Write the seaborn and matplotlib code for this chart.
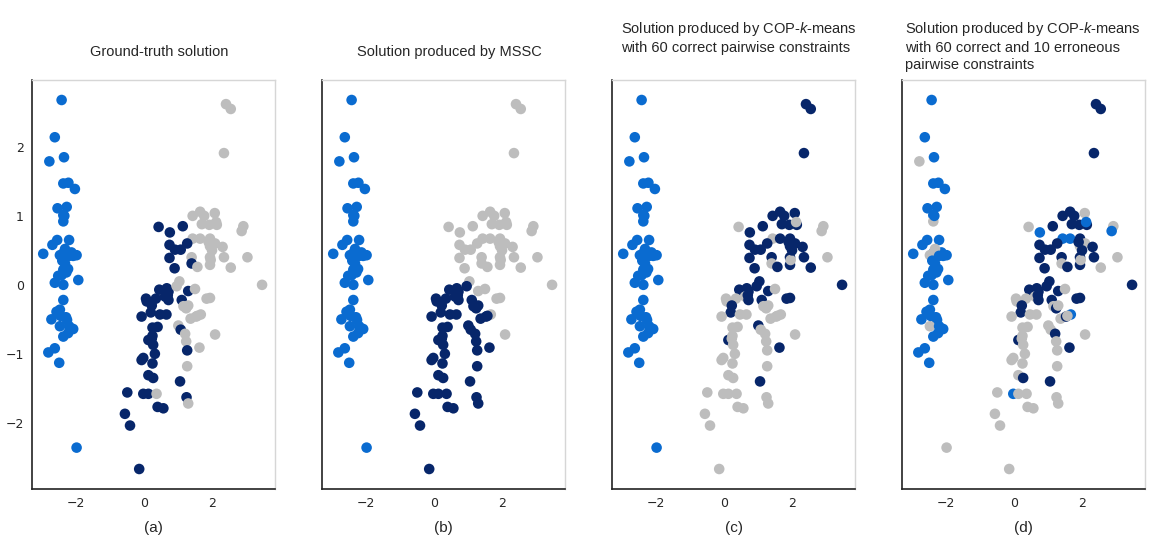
import matplotlib
matplotlib.use("Agg")
import matplotlib.pyplot as plt
import numpy as np
import pandas as pd
import seaborn as sns

# point positions (shared by all four panels)
pc1 = [
    # left group
    -2.42, -2.62, -2.78, -2.35, -2.37, -2.22, -2.03, -2.54, -2.27, -2.37,
    -2.37, -2.55, -2.69, -2.20, -2.96, -2.37, -2.13, -1.98, -2.08, -2.32,
    -2.47, -2.32, -2.37, -2.23, -2.42, -2.52, -2.62, -2.37, -1.93, -2.37,
    -2.47, -2.57, -2.72, -2.29, -2.26, -2.47, -2.08, -2.23, -2.37, -2.62,
    -2.81, -2.49, -1.98, -2.32, -2.40, -2.28, -2.45, -2.20, -2.34, -2.20,
    # right group, upper part
    2.41, 2.55, 2.35, 1.43, 1.65, 1.77, 2.08, 1.92, 2.14, 2.92,
    2.87, 0.43, 0.76, 1.14, 1.43, 1.65, 1.94, 2.09, 1.94, 2.31,
    0.75, 1.27, 0.91, 1.08, 0.75, 1.40, 1.94, 2.35, 3.04, 1.40,
    1.57, 1.94, 2.55, 0.90, 3.47, 1.04, 2.12, 1.96,
    # right group, lower part
    0.45, 0.67, 0.72, 0.96, 1.30, 1.50, 0.06, 0.08, 0.35, 0.62,
    0.72, 1.11, 1.84, 1.94, 1.16, 1.24, 0.23, 0.20, -0.07, 0.47,
    0.66, 1.37, 1.53, 1.67, 0.25, 0.40, 1.01, 1.08, 1.21, 2.09,
    0.13, 0.23, 0.27, 1.24, 1.27, 1.63, 0.32, -0.02, -0.07, 0.25,
    1.27, 0.13, 0.27, 1.06, -0.49, -0.02, 0.13, 0.37, 1.25, 1.30,
    0.40, 0.57, -0.56, -0.41, -0.14,
    # hidden under others
    0.70, 0.25, 1.90, 1.57, 2.00, 1.70, 1.30,
]
pc2 = [
    2.68, 2.14, 1.79, 1.85, 1.47, 1.48, 1.39, 1.11, 1.13, 1.01,
    0.92, 0.65, 0.58, 0.65, 0.45, 0.46, 0.47, 0.43, 0.42, 0.39,
    0.43, 0.31, 0.22, 0.23, 0.14, 0.13, 0.03, 0.00, 0.07, -0.22,
    -0.36, -0.39, -0.50, -0.47, -0.51, -0.60, -0.64, -0.70, -0.75, -0.92,
    -0.98, -1.13, -2.36, 0.52, 0.35, 0.18, -0.45, -0.60, 1.00, 0.42,
    2.62, 2.55, 1.91, 1.00, 1.06, 1.00, 1.04, 0.87, 0.87, 0.85,
    0.78, 0.84, 0.76, 0.85, 0.67, 0.67, 0.67, 0.60, 0.56, 0.55,
    0.58, 0.60, 0.51, 0.51, 0.39, 0.40, 0.40, 0.40, 0.40, 0.31,
    0.26, 0.29, 0.25, 0.24, 0.00, 0.05, 0.91, 0.36,
    -0.07, -0.05, -0.10, -0.02, -0.09, -0.06, -0.20, -0.24, -0.20, -0.17,
    -0.22, -0.22, -0.20, -0.19, -0.31, -0.34, -0.30, -0.40, -0.46, -0.43,
    -0.43, -0.49, -0.46, -0.43, -0.62, -0.61, -0.59, -0.65, -0.71, -0.72,
    -0.80, -0.78, -0.87, -0.82, -0.95, -0.91, -1.00, -1.06, -1.09, -1.14,
    -1.18, -1.31, -1.35, -1.40, -1.56, -1.58, -1.58, -1.58, -1.63, -1.72,
    -1.77, -1.79, -1.87, -2.04, -2.67,
    -0.15, -0.74, 0.62, -0.45, 0.50, 0.88, -0.30,
]

# cluster labels per panel: 0 = blue, 1 = navy, 2 = grey
left_truth = [0] * 50
left_cop_err = [0, 0, 2, 0, 0, 0, 0, 0, 0, 0,
                2, 0, 0, 0, 0, 0, 0, 0, 0, 0,
                2, 0, 0, 0, 0, 0, 0, 0, 0, 0,
                0, 0, 0, 0, 0, 2, 0, 0, 0, 0,
                0, 0, 2, 2, 0, 0, 0, 0, 0, 0]

truth = left_truth + [
    2, 2, 2, 2, 2, 2, 2, 2, 2, 2,
    2, 1, 1, 1, 2, 2, 2, 2, 2, 2,
    1, 1, 1, 1, 1, 2, 2, 2, 2, 1,
    2, 2, 2, 1, 2, 2, 2, 2,
    1, 1, 1, 2, 1, 2, 1, 1, 1, 1,
    1, 1, 2, 2, 2, 2, 1, 1, 1, 1,
    1, 2, 2, 2, 1, 1, 2, 1, 2, 2,
    1, 1, 1, 2, 1, 2, 1, 1, 1, 1,
    2, 1, 1, 1, 1, 1, 1, 2, 1, 2,
    1, 1, 1, 1, 1,
    1, 1, 2, 2, 2, 2, 2,
]
mssc = left_truth + [
    2, 2, 2, 2, 2, 2, 2, 2, 2, 2,
    2, 2, 2, 2, 2, 2, 2, 2, 2, 2,
    2, 2, 2, 2, 2, 2, 2, 2, 2, 2,
    2, 2, 2, 2, 2, 2, 2, 2,
    1, 1, 1, 1, 2, 2, 1, 1, 1, 1,
    1, 1, 2, 2, 1, 1, 1, 1, 1, 1,
    1, 1, 1, 2, 1, 1, 1, 1, 1, 2,
    1, 1, 1, 1, 1, 1, 1, 1, 1, 1,
    1, 1, 1, 1, 1, 1, 1, 1, 1, 1,
    1, 1, 1, 1, 1,
    1, 1, 2, 1, 2, 2, 1,
]
cop = left_truth + [
    1, 1, 1, 1, 1, 1, 1, 1, 1, 2,
    2, 2, 1, 1, 2, 1, 1, 1, 1, 1,
    1, 1, 1, 1, 1, 1, 1, 1, 2, 2,
    1, 1, 1, 1, 1, 1, 2, 2,
    1, 1, 1, 1, 1, 2, 2, 2, 2, 2,
    1, 1, 1, 1, 2, 2, 1, 1, 2, 2,
    2, 2, 2, 2, 2, 2, 1, 2, 2, 2,
    1, 2, 2, 2, 2, 1, 2, 2, 2, 2,
    2, 2, 2, 1, 2, 2, 2, 2, 2, 2,
    2, 2, 2, 2, 2,
    1, 2, 1, 2, 1, 1, 2,
]
cop_err = left_cop_err + [
    1, 1, 1, 1, 1, 1, 2, 1, 1, 2,
    0, 2, 0, 1, 0, 0, 1, 2, 2, 1,
    1, 1, 1, 1, 1, 1, 1, 1, 2, 2,
    1, 1, 2, 1, 1, 1, 0, 2,
    1, 1, 1, 1, 1, 2, 2, 2, 2, 2,
    1, 1, 1, 1, 2, 1, 1, 1, 2, 2,
    2, 2, 1, 0, 2, 2, 2, 2, 1, 2,
    1, 2, 2, 2, 2, 1, 2, 2, 2, 2,
    2, 2, 1, 1, 2, 0, 2, 2, 2, 2,
    2, 2, 2, 2, 2,
    1, 2, 1, 2, 1, 1, 2,
]

titles = [
    "Ground-truth solution",
    "Solution produced by MSSC",
    "Solution produced by COP-$k$-means\nwith 60 correct pairwise constraints",
    "Solution produced by COP-$k$-means\nwith 60 correct and 10 erroneous\npairwise constraints",
]
panel_tags = ["(a)", "(b)", "(c)", "(d)"]
colors = {0: "#0a6bd0", 1: "#07266a", 2: "#bdbdbd"}

sns.set_style("white")
plt.rcParams["mathtext.fontset"] = "custom"
plt.rcParams["mathtext.it"] = "Liberation Sans:italic"
plt.rcParams["mathtext.rm"] = "Liberation Sans"

fig = plt.figure(figsize=(11.71, 5.42), dpi=100)
W, H = 1171, 542
title_x = [0, 0, 9, 3]

for i, labels in enumerate([truth, mssc, cop, cop_err]):
    left = 32 + 290 * i
    ax = fig.add_axes([left / W, (H - 489) / H, 243 / W, 409 / H])
    df = pd.DataFrame({"x": pc1, "y": pc2, "c": labels})
    sns.scatterplot(data=df, x="x", y="y", hue="c", palette=colors,
                    s=58, linewidth=0, legend=False, ax=ax)
    ax.set_xlim(-3.29, 3.85)
    ax.set_ylim(-2.96, 2.97)
    ax.set_xlabel("")
    ax.set_ylabel("")
    ax.set_xticks([-2, 0, 2])
    ax.set_yticks([-2, -1, 0, 1, 2])
    ax.tick_params(length=0, labelsize=9, pad=6)
    if i > 0:
        ax.set_yticklabels([])
    for side in ["left", "bottom"]:
        ax.spines[side].set_color("#222222")
        ax.spines[side].set_linewidth(1.2)
    for side in ["right", "top"]:
        ax.spines[side].set_color("#d6d6d6")
        ax.spines[side].set_linewidth(1.0)

    cx = (left + 121.5) / W
    if i < 2:
        fig.text(cx + 6 / W, 1 - 52 / H, titles[i], ha="center", va="center",
                 fontsize=10.5, family="Liberation Sans")
    else:
        fig.text((left + title_x[i]) / W, 1 - 20 / H, titles[i], ha="left",
                 va="top", fontsize=10.5, family="Liberation Sans",
                 linespacing=1.25)
    fig.text(cx, 1 - 528 / H, panel_tags[i], ha="center", va="center",
             fontsize=11, family="Liberation Sans")

fig.savefig("out.png", dpi=100)
